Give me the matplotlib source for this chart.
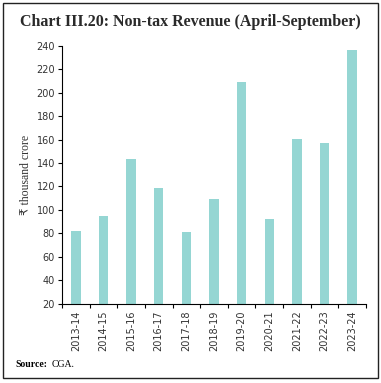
import numpy as np
import matplotlib.pyplot as plt
from matplotlib.patches import Rectangle

# Data
years = ['2013-14', '2014-15', '2015-16', '2016-17', '2017-18', '2018-19',
         '2019-20', '2020-21', '2021-22', '2022-23', '2023-24']
revenue = [82.3, 94.9, 143.7, 118.9, 80.9, 109.1, 209.0, 92.3, 160.6, 157.4, 236.9]
yticks = np.arange(20, 241, 20)

bar_color = '#95d6d3'
serif = ['Liberation Serif', 'DejaVu Sans']

fig = plt.figure(figsize=(3.81, 3.83), dpi=100)
ax = fig.add_axes([62/381, 1 - 303.5/383, (366-62)/381, (303.5-46)/383])

x = np.arange(len(years))
ax.bar(x, np.array(revenue) - 20, bottom=20, width=0.34, color=bar_color)

ax.set_xlim(-0.5, len(years) - 0.5)
ax.set_ylim(20, 240)
ax.set_yticks(yticks)
ax.tick_params(axis='y', labelsize=7, length=3, width=0.8, pad=2, labelcolor='#333333')
ax.set_xticks(x)
ax.set_xticklabels(years, rotation=90, fontsize=7, color='#333333')
ax.tick_params(axis='x', which='major', length=0, pad=5)
ax.set_xticks(np.arange(-0.5, len(years), 1), minor=True)
ax.tick_params(axis='x', which='minor', length=3, width=0.8)

for s in ['top', 'right']:
    ax.spines[s].set_visible(False)
for s in ['left', 'bottom']:
    ax.spines[s].set_linewidth(0.8)

ax.set_ylabel('₹ thousand crore', family=serif, fontsize=8.5, labelpad=3, color='#333333')

fig.text(190/381, 1 - 22/383, 'Chart III.20: Non-tax Revenue (April-September)',
         ha='center', va='center', family='Liberation Serif', fontweight='bold',
         fontsize=11.5, color='#2a2a2a')
src = fig.text(15/381, 1 - 367/383, 'Source:', ha='left', va='baseline',
               fontsize=7, fontweight='bold', family='Liberation Serif')
fig.text(0, 0, '')
plt.annotate('CGA.', xy=(1, 0), xycoords=src, xytext=(3, 0), textcoords='offset points',
             ha='left', va='bottom', fontsize=7, family='Liberation Serif')

# outer frame
fig.patches.append(Rectangle((3/381, 5/383), 375/381, 375/383, transform=fig.transFigure,
                             fill=False, edgecolor='#222222', linewidth=1))

fig.savefig('out.png', dpi=100)
